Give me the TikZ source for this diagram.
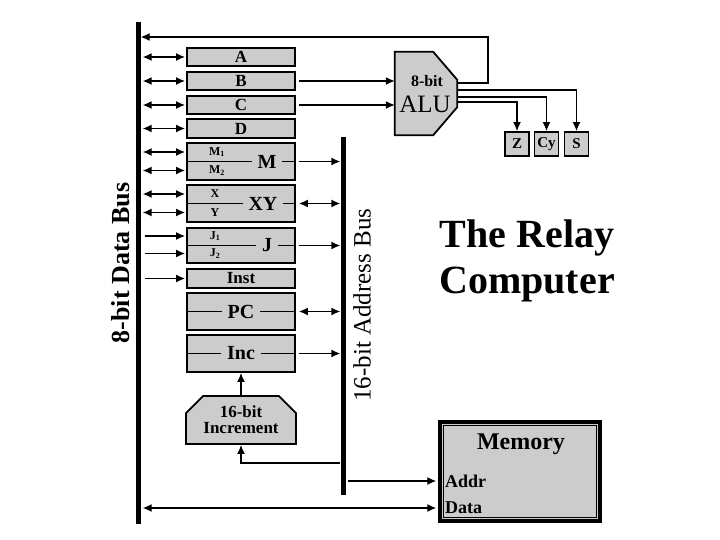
\documentclass[tikz,border=0pt]{standalone}
\usepackage{fontspec}
\setmainfont{Liberation Serif}
\usetikzlibrary{arrows.meta,positioning,shapes.misc}

\begin{document}
\begin{tikzpicture}
		[x=1pt,y=-1pt,>={Latex[length=9pt,width=8pt]},
		 conn/.style={line width=1.4pt},
		 reg/.style={draw,line width=1.8pt,fill=regfill,minimum width=108pt,inner sep=0pt},
		 bus/.style={fill=black,minimum width=5pt,inner sep=0pt},
		 lbl/.style={fill=regfill,inner xsep=6pt,inner ysep=1pt,font=\fontsize{20}{21}\selectfont\bfseries},
		 sub/.style={inner sep=0pt,font=\fontsize{12}{13}\selectfont\bfseries},
		 flag/.style={draw,line width=1.8pt,fill=regfill,minimum size=24pt,inner sep=0pt,font=\fontsize{15}{16}\selectfont\bfseries}]

        \definecolor{regfill}{RGB}{204,204,204}

        \useasboundingbox (0,0) rectangle (720,540);

        \node[bus,minimum height=502pt] (dbus) at (138,273) {};
        \node[bus,minimum height=358pt] (abus) at (343,316) {};

        \node[rotate=90,font=\fontsize{26}{26}\selectfont\bfseries] (dbuslbl) at (121,263) {8-bit Data Bus};
        \node[rotate=90,font=\fontsize{25}{25}\selectfont] (abuslbl) at (362,305) {16-bit Address Bus};

        \foreach \name/\y/\h in {A/57/18pt,B/81/18pt,C/105/18pt,D/128.5/19pt,Inst/278.5/19pt}
            \node[reg,minimum height=\h,font=\fontsize{17}{18}\selectfont\bfseries] (\name) at (241,\y) {\name};

        \foreach \name/\y/\h in {M/161.5/37pt,XY/203.5/37pt,J/245.5/35pt,PC/311.5/37pt,Inc/353.5/37pt}  {
            \node[reg,minimum height=\h] (\name) at (241,\y) {};
            \draw[conn] (\name.west) -- (\name.east);
        }

        \node[lbl] (Mlbl) at (267,161.5) {M};
        \node[lbl] (XYlbl) at (263,203.5) {XY};
        \node[lbl] (Jlbl) at (267,245.5) {J};
        \node[lbl] (PClbl) at (241,311.5) {PC};
        \node[lbl] (Inclbl) at (241,353.5) {Inc};

        \node[sub] (M1) at (217,152) {M\textsubscript{1}};
        \node[sub] (M2) at (217,170.5) {M\textsubscript{2}};
        \node[sub] (X) at (215,194) {X};
        \node[sub] (Y) at (215,212.5) {Y};
        \node[sub] (J1) at (215,236) {J\textsubscript{1}};
        \node[sub] (J2) at (215,253.5) {J\textsubscript{2}};

        \foreach \n in {A,B,C,D,M1,M2,X,Y}
            \draw[conn,<->,shorten <=2pt,shorten >=1pt] (dbus.east |- \n) -- (\n -| M.west);
        \foreach \n in {J1,J2,Inst}
            \draw[conn,->,shorten <=4pt,shorten >=1pt] (dbus.east |- \n) -- (\n -| M.west);

        \foreach \n in {M,J,Inc}
            \draw[conn,->,shorten <=3pt] (\n.east) -- (\n.east -| abus.west);
        \foreach \n in {XY,PC}
            \draw[conn,<->,shorten <=3pt] (\n.east) -- (\n.east -| abus.west);

        \node[reg,chamfered rectangle,chamfered rectangle corners={north west,north east},chamfered rectangle xsep=15pt,
              minimum width=110pt,minimum height=48pt,align=center,font=\fontsize{17}{16}\selectfont\bfseries] (incr) at (241,420) {16-bit\\Increment};
        \coordinate (incfeed) at ([yshift=-18pt]incr.south);

        \draw[conn,->] (incr.north) -- (Inc.south);
        \draw[conn,->] (incfeed -| abus.west) -| (incr.south);

        \node[minimum width=62pt,minimum height=83pt,inner sep=0pt] (alu) at (426,93.5) {};
        \draw[line width=1.8pt,fill=regfill] (alu.north west) -- ([shift={(-24,0)}]alu.north east) -- ([shift={(0,28)}]alu.north east)
            -- ([shift={(0,-28)}]alu.south east) -- ([shift={(-24,0)}]alu.south east) -- (alu.south west) -- cycle;
        \node[inner sep=0pt,font=\fontsize{16}{16}\selectfont\bfseries] (alubits) at (427,81) {8-bit};
        \node[inner sep=0pt,font=\fontsize{25}{25}\selectfont] (alulbl) at (425,104) {ALU};

        \foreach \n in {B,C}
            \draw[conn,->,shorten <=3pt] (\n.east) -- (\n.east -| alu.west);

        \node[flag] (Z) at (517,144) {Z};
        \node[flag] (Cy) at (546.5,144) {Cy};
        \node[flag] (S) at (576.5,144) {S};

        \coordinate (fb) at (488,37);
        \draw[conn,->] ([shift={(0,-10.5)}]alu.east) -| (fb) -- (fb -| dbus.east);
        \draw[conn,->] ([shift={(0,-3.5)}]alu.east) -| (S.north);
        \draw[conn,->] ([shift={(0,3.5)}]alu.east) -| (Cy.north);
        \draw[conn,->] ([shift={(0,8.5)}]alu.east) -| (Z.north);

        \node[align=center,font=\fontsize{40}{46}\selectfont\bfseries] (title) at (527,261) {The Relay\\Computer};

        \node[draw,line width=3.5pt,fill=regfill,minimum width=160pt,minimum height=99pt,inner sep=0pt] (mem) at (520,471.5) {};
        \draw[line width=0.8pt] ([shift={(5.5,5.5)}]mem.north west) rectangle ([shift={(-5.5,-5.5)}]mem.south east);
        \node[font=\fontsize{24}{25}\selectfont\bfseries] (memlbl) at (521,444) {Memory};
        \node[anchor=west,inner sep=1pt,font=\fontsize{18}{19}\selectfont\bfseries] (addr) at (444,481) {Addr};
        \node[anchor=west,inner sep=1pt,font=\fontsize{18}{19}\selectfont\bfseries] (data) at (444,508) {Data};

        \draw[conn,->,shorten <=2pt,shorten >=2pt] (abus.east |- addr) -- (addr -| mem.west);
        \draw[conn,<->,shorten <=2pt,shorten >=2pt] (dbus.east |- data) -- (data -| mem.west);

    \end{tikzpicture}
\end{document}
